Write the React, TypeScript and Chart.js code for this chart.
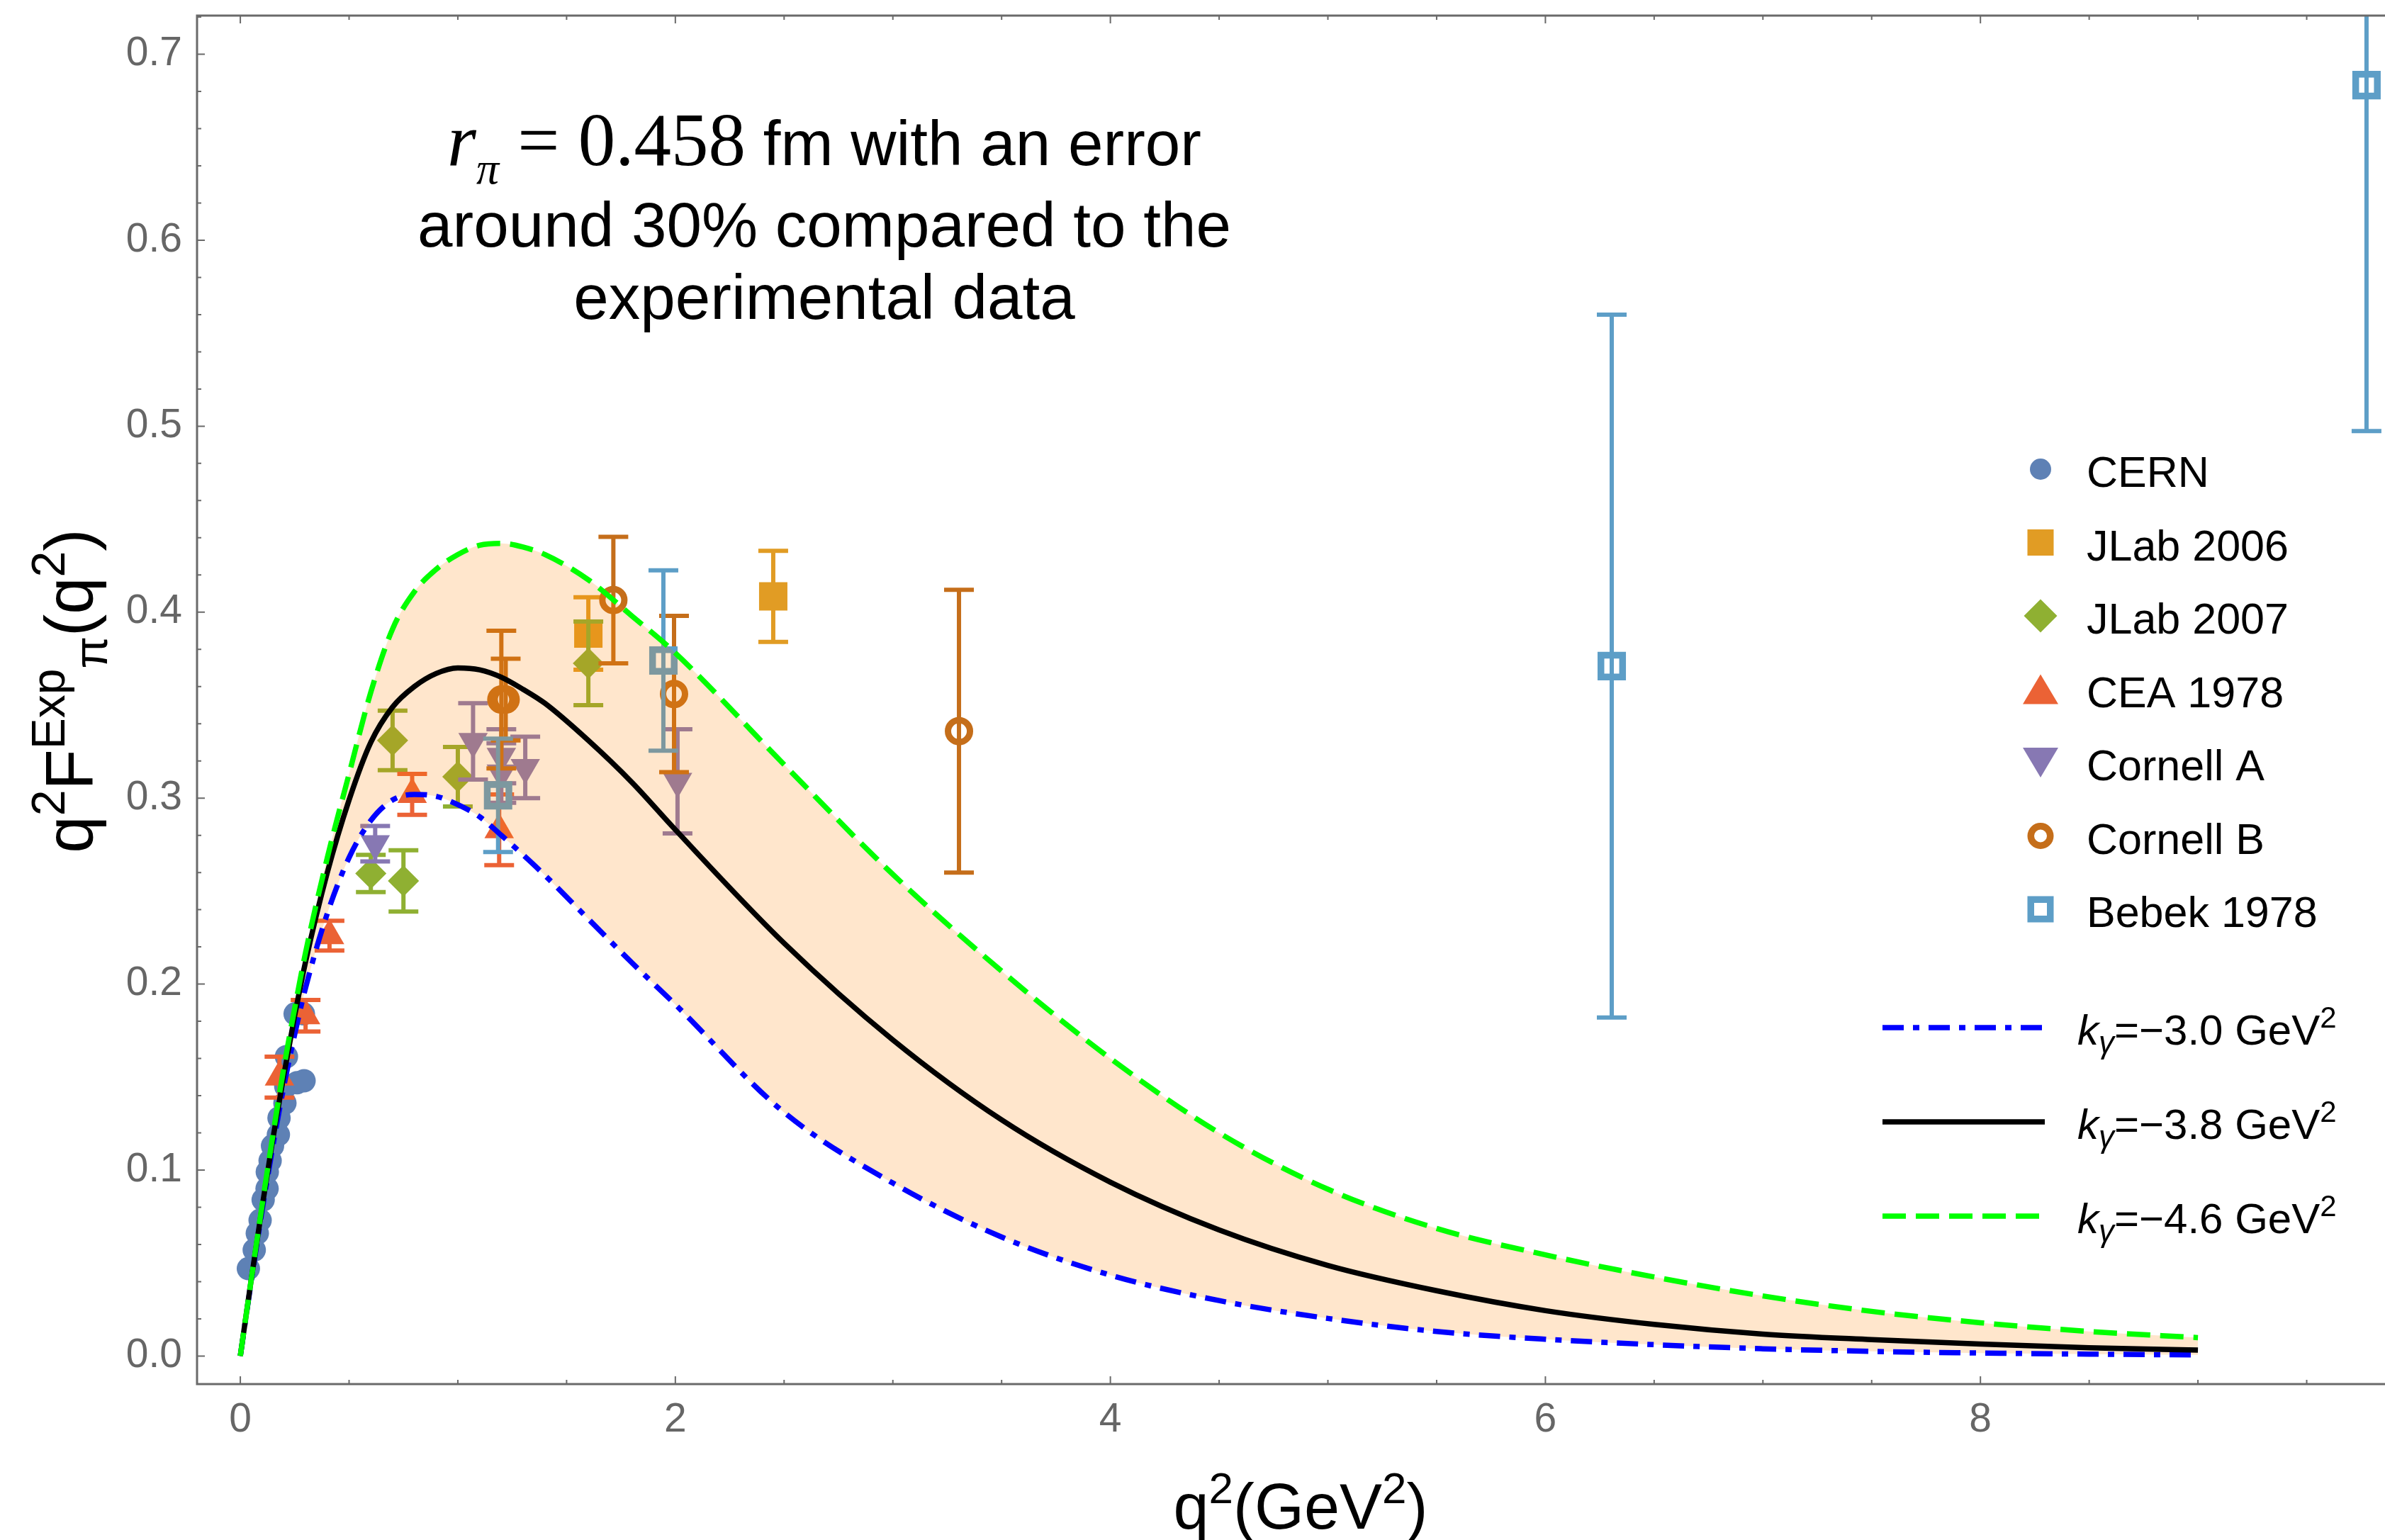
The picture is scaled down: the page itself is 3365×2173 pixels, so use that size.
import React, { useEffect, useRef } from 'react';
import { Chart, registerables } from 'chart.js';

Chart.register(...registerables);

const W = 3365;
const H = 2173;

// ---------------- data ----------------
// model curves q^2 F(q^2) for three k_gamma values
const curveQ2 = [0, 0.05, 0.1, 0.15, 0.2, 0.25, 0.3, 0.4, 0.5, 0.6, 0.7, 0.8, 0.9, 1.0, 1.1, 1.2, 1.3, 1.4, 1.6, 1.8, 2.0, 2.5, 3.0, 3.5, 4.0, 4.5, 5.0, 5.5, 6.0, 6.5, 7.0, 7.5, 8.0, 8.5, 9.0];
const curveK30 = [0, 0.040, 0.078, 0.113, 0.145, 0.173, 0.198, 0.238, 0.268, 0.288, 0.299, 0.302, 0.301, 0.2965, 0.290, 0.280, 0.2695, 0.2585, 0.235, 0.2115, 0.189, 0.131, 0.093, 0.064, 0.0435, 0.0298, 0.0202, 0.0132, 0.0090, 0.0061, 0.0039, 0.0025, 0.0016, 0.0010, 0.0006];
const curveK38 = [0, 0.041, 0.080, 0.117, 0.151, 0.183, 0.212, 0.260, 0.299, 0.330, 0.349, 0.360, 0.367, 0.370, 0.369, 0.365, 0.3585, 0.351, 0.331, 0.3085, 0.283, 0.222, 0.170, 0.127, 0.0935, 0.0678, 0.0487, 0.0351, 0.0244, 0.0170, 0.0118, 0.0088, 0.0064, 0.0044, 0.0032];
const curveK46 = [0, 0.041, 0.081, 0.119, 0.155, 0.187, 0.217, 0.268, 0.313, 0.357, 0.391, 0.411, 0.423, 0.431, 0.436, 0.437, 0.435, 0.431, 0.4174, 0.398, 0.378, 0.318, 0.259, 0.207, 0.160, 0.120, 0.0897, 0.0686, 0.0544, 0.0425, 0.0323, 0.0240, 0.0179, 0.0132, 0.0099];

// experimental data
const cernQ2 = [0.037, 0.064, 0.078, 0.091, 0.105, 0.123, 0.124, 0.137, 0.148, 0.175, 0.178, 0.205, 0.209, 0.212, 0.252, 0.261, 0.290, 0.293];
const cernVal = [0.047, 0.057, 0.066, 0.073, 0.084, 0.090, 0.099, 0.105, 0.113, 0.119, 0.128, 0.136, 0.145, 0.161, 0.184, 0.147, 0.184, 0.148];

const jlab06Q2 = [1.60, 2.45];
const jlab06Val = [0.3885, 0.4085];
const jlab06Err = [0.0195, 0.0245];

const jlab07Q2 = [0.60, 0.70, 0.75, 1.00, 1.60];
const jlab07Val = [0.2595, 0.331, 0.2555, 0.3115, 0.3725];
const jlab07Err = [0.010, 0.016, 0.0165, 0.016, 0.0225];

const ceaQ2 = [0.18, 0.30, 0.41, 0.79, 1.19];
const ceaVal = [0.150, 0.183, 0.226, 0.302, 0.283];
const ceaErr = [0.011, 0.0085, 0.008, 0.011, 0.019];

const cornellAQ2 = [0.62, 1.07, 1.20, 1.20, 1.31, 2.01];
const cornellAVal = [0.2755, 0.3305, 0.3225, 0.3135, 0.3165, 0.309];
const cornellAErr = [0.0095, 0.0205, 0.0145, 0.016, 0.0165, 0.028];

const cornellBQ2 = [1.20, 1.22, 1.715, 1.994, 3.304];
const cornellBVal = [0.353, 0.353, 0.4065, 0.356, 0.336];
const cornellBErr = [0.037, 0.022, 0.034, 0.042, 0.076];

const bebekQ2 = [1.185, 1.945, 6.305, 9.775];
const bebekVal = [0.3015, 0.374, 0.371, 0.6834];
const bebekErr = [0.0305, 0.0485, 0.189, 0.186];

const xTickValues = [0, 2, 4, 6, 8];
const yTickValues = [0, 0.1, 0.2, 0.3, 0.4, 0.5, 0.6, 0.7];

const seriesLabels = ['CERN', 'JLab 2006', 'JLab 2007', 'CEA 1978', 'Cornell A', 'Cornell B', 'Bebek 1978'];
const curveLabels = ['\u22123.0', '\u22123.8', '\u22124.6'];

// ---------------- styles ----------------
const C_CERN = '#5E81B5';
const C_JL06 = '#E19C24';
const C_JL07 = '#8FB032';
const C_CEA = '#EB6235';
const C_CORA = '#8778B3';
const C_CORB = '#C56E1A';
const C_BEB = '#5D9EC7';
const FRAME = '#6a6a6a';
const SANS = '"Liberation Sans", Arial, Helvetica, sans-serif';
const SERIF = '"Liberation Serif", "Times New Roman", serif';

const XMIN = -0.199;
const XMAX = 9.860;
const YMIN = -0.0151;
const YMAX = 0.7208;

const BLUE_DASH = [30, 13, 9, 13];
const GREEN_DASH = [33, 14];

const pts = (xs: number[], ys: number[]) => xs.map((x, i) => ({ x, y: ys[i] }));

type Run = { t: string; px: number; fam?: string; it?: boolean; dy?: number };
const fontOf = (r: Run) => `${r.it ? 'italic ' : ''}${r.px}px ${r.fam || SANS}`;
function runsWidth(ctx: CanvasRenderingContext2D, runs: Run[]) {
  let w = 0;
  for (const r of runs) {
    ctx.font = fontOf(r);
    w += ctx.measureText(r.t).width;
  }
  return w;
}
function drawRuns(ctx: CanvasRenderingContext2D, runs: Run[], x: number, y: number, align: 'left' | 'center' = 'left') {
  let cx = align === 'center' ? x - runsWidth(ctx, runs) / 2 : x;
  ctx.textAlign = 'left';
  ctx.textBaseline = 'alphabetic';
  for (const r of runs) {
    ctx.font = fontOf(r);
    ctx.fillText(r.t, cx, y + (r.dy || 0));
    cx += ctx.measureText(r.t).width;
  }
}

function drawMarker(ctx: CanvasRenderingContext2D, shape: string, x: number, y: number, color: string) {
  ctx.save();
  ctx.fillStyle = color;
  ctx.strokeStyle = color;
  ctx.beginPath();
  if (shape === 'circle') {
    ctx.arc(x, y, 15, 0, Math.PI * 2);
    ctx.fill();
  } else if (shape === 'square') {
    ctx.rect(x - 18.5, y - 18.5, 37, 37);
    ctx.fill();
  } else if (shape === 'diamond') {
    ctx.moveTo(x, y - 23.5);
    ctx.lineTo(x + 23.5, y);
    ctx.lineTo(x, y + 23.5);
    ctx.lineTo(x - 23.5, y);
    ctx.closePath();
    ctx.fill();
  } else if (shape === 'triUp') {
    ctx.moveTo(x, y - 21);
    ctx.lineTo(x + 25, y + 21);
    ctx.lineTo(x - 25, y + 21);
    ctx.closePath();
    ctx.fill();
  } else if (shape === 'triDown') {
    ctx.moveTo(x, y + 21);
    ctx.lineTo(x + 25, y - 21);
    ctx.lineTo(x - 25, y - 21);
    ctx.closePath();
    ctx.fill();
  } else if (shape === 'ring') {
    ctx.lineWidth = 9.5;
    ctx.arc(x, y, 13.75, 0, Math.PI * 2);
    ctx.stroke();
  } else if (shape === 'openSquare') {
    ctx.lineWidth = 9.5;
    ctx.rect(x - 13.75, y - 13.75, 27.5, 27.5);
    ctx.stroke();
  }
  ctx.restore();
}

const legendShapes = ['circle', 'square', 'diamond', 'triUp', 'triDown', 'ring', 'openSquare'];
const legendColors = [C_CERN, C_JL06, C_JL07, C_CEA, C_CORA, C_CORB, C_BEB];

const errorBarPlugin = {
  id: 'errorBars',
  beforeDatasetDraw(chart: any, args: any) {
    const ds = chart.data.datasets[args.index];
    if (!ds.errors) return;
    const { ctx, chartArea: a, scales } = chart;
    const xs = scales.x;
    const ys = scales.y;
    ctx.save();
    ctx.beginPath();
    ctx.rect(a.left, a.top, a.right - a.left, a.bottom - a.top);
    ctx.clip();
    ctx.strokeStyle = ds.pointBorderColor || ds.pointBackgroundColor;
    ctx.lineCap = 'butt';
    ds.data.forEach((p: any, i: number) => {
      const e = ds.errors[i];
      const px = xs.getPixelForValue(p.x);
      const y1 = ys.getPixelForValue(p.y + e);
      const y2 = ys.getPixelForValue(p.y - e);
      ctx.lineWidth = 6;
      ctx.beginPath();
      ctx.moveTo(px, y1);
      ctx.lineTo(px, y2);
      ctx.moveTo(px - 21, y1);
      ctx.lineTo(px + 21, y1);
      ctx.moveTo(px - 21, y2);
      ctx.lineTo(px + 21, y2);
      ctx.stroke();
    });
    ctx.restore();
  },
};

const framePlugin = {
  id: 'frameTicks',
  afterDatasetsDraw(chart: any) {
    const { ctx, chartArea: a, scales } = chart;
    const xs = scales.x;
    const ys = scales.y;
    ctx.save();
    ctx.strokeStyle = FRAME;
    ctx.lineWidth = 3;
    ctx.beginPath();
    ctx.moveTo(a.left, a.top);
    ctx.lineTo(a.right, a.top);
    ctx.moveTo(a.left, a.top - 1.5);
    ctx.lineTo(a.left, a.bottom + 1.5);
    ctx.moveTo(a.left, a.bottom);
    ctx.lineTo(a.right, a.bottom);
    ctx.stroke();
    ctx.lineWidth = 2;
    ctx.beginPath();
    for (let i = 0; i <= 19; i++) {
      const v = i * 0.5;
      const len = i % 4 === 0 ? 11 : 6;
      const px = xs.getPixelForValue(v);
      ctx.moveTo(px, a.bottom);
      ctx.lineTo(px, a.bottom - len);
      ctx.moveTo(px, a.top);
      ctx.lineTo(px, a.top + len);
    }
    for (let i = 0; i <= 36; i++) {
      const v = i * 0.02;
      const len = i % 5 === 0 ? 11 : 6;
      const py = ys.getPixelForValue(v);
      ctx.moveTo(a.left, py);
      ctx.lineTo(a.left + len, py);
    }
    ctx.stroke();
    ctx.restore();
  },
};

const textPlugin = {
  id: 'texts',
  afterDraw(chart: any) {
    const ctx: CanvasRenderingContext2D = chart.ctx;
    ctx.save();
    ctx.fillStyle = '#000';

    // annotation
    drawRuns(ctx, [
      { t: 'r', px: 105, fam: SERIF, it: true },
      { t: '\u03c0', px: 64, fam: SERIF, it: true, dy: 26 },
      { t: ' = 0.458', px: 105, fam: SERIF },
      { t: ' fm with an error', px: 89 },
    ], 1163, 233, 'center');
    drawRuns(ctx, [{ t: 'around 30% compared to the', px: 89 }], 1163, 348, 'center');
    drawRuns(ctx, [{ t: 'experimental data', px: 89 }], 1163, 450, 'center');

    // x axis title
    drawRuns(ctx, [
      { t: 'q', px: 90 },
      { t: '2', px: 62, dy: -36 },
      { t: '(GeV', px: 90 },
      { t: '2', px: 62, dy: -36 },
      { t: ')', px: 90 },
    ], 1835, 2157, 'center');

    // y axis title (rotated)
    ctx.save();
    ctx.translate(130, 975);
    ctx.rotate(-Math.PI / 2);
    drawRuns(ctx, [
      { t: 'q', px: 94 },
      { t: '2', px: 66, dy: -39 },
      { t: 'F', px: 94 },
      { t: 'Exp', px: 66, dy: -39 },
      { t: '\u03c0', px: 66, dy: 21 },
      { t: '(q', px: 94 },
      { t: '2', px: 66, dy: -39 },
      { t: ')', px: 94 },
    ], 0, 0, 'center');
    ctx.restore();

    // legend: data series
    seriesLabels.forEach((lab, i) => {
      const base = 687 + i * 103.5;
      drawMarker(ctx, legendShapes[i], 2879, base - 25, legendColors[i]);
      ctx.fillStyle = '#000';
      drawRuns(ctx, [{ t: lab, px: 61 }], 2944, base);
    });

    // legend: curves
    const lineStyles = [
      { color: '#0000ff', dash: BLUE_DASH },
      { color: '#000000', dash: [] as number[] },
      { color: '#00ff00', dash: GREEN_DASH },
    ];
    curveLabels.forEach((lab, i) => {
      const ly = 1450 + i * 133;
      ctx.save();
      ctx.strokeStyle = lineStyles[i].color;
      ctx.lineWidth = 7.5;
      ctx.lineCap = 'butt';
      ctx.setLineDash(lineStyles[i].dash);
      ctx.beginPath();
      ctx.moveTo(2656, ly);
      ctx.lineTo(2885, ly);
      ctx.stroke();
      ctx.restore();
      ctx.fillStyle = '#000';
      drawRuns(ctx, [
        { t: 'k', px: 60, it: true },
        { t: '\u03b3', px: 44, it: true, dy: 12 },
        { t: '=' + lab + ' GeV', px: 60 },
        { t: '2', px: 42, dy: -24 },
      ], 2931, ly + 24);
    });
    ctx.restore();
  },
};

function buildConfig(): any {
  const scatter = (label: string, xs: number[], ys: number[], errs: number[] | null, style: any, order: number) => ({
    type: 'scatter',
    label,
    data: pts(xs, ys),
    errors: errs,
    showLine: false,
    order,
    ...style,
  });
  const fillColor = 'rgba(255,128,0,0.2)';
  return {
    type: 'scatter',
    data: {
      datasets: [
        {
          type: 'line', label: 'k=-3.0', data: pts(curveQ2, curveK30), borderColor: '#0000ff', borderWidth: 7.5,
          borderDash: BLUE_DASH, borderCapStyle: 'butt', pointRadius: 0, cubicInterpolationMode: 'monotone',
          fill: { target: 2 }, backgroundColor: fillColor, order: 2,
        },
        {
          type: 'line', label: 'k=-3.8', data: pts(curveQ2, curveK38), borderColor: '#000000', borderWidth: 7.5,
          pointRadius: 0, cubicInterpolationMode: 'monotone', fill: false, order: 1,
        },
        {
          type: 'line', label: 'k=-4.6', data: pts(curveQ2, curveK46), borderColor: '#00ff00', borderWidth: 7.5,
          borderDash: GREEN_DASH, borderCapStyle: 'butt', pointRadius: 0, cubicInterpolationMode: 'monotone', fill: false, order: 0,
        },
        scatter('CERN', cernQ2, cernVal, null, { pointStyle: 'circle', pointRadius: 16.5, pointBackgroundColor: C_CERN, pointBorderColor: C_CERN, pointBorderWidth: 0 }, 10),
        scatter('JLab 2006', jlab06Q2, jlab06Val, jlab06Err, { pointStyle: 'rect', pointRadius: 28.3, pointBackgroundColor: C_JL06, pointBorderColor: C_JL06, pointBorderWidth: 0 }, 9),
        scatter('JLab 2007', jlab07Q2, jlab07Val, jlab07Err, { pointStyle: 'rectRot', pointRadius: 22, pointBackgroundColor: C_JL07, pointBorderColor: C_JL07, pointBorderWidth: 0 }, 8),
        scatter('CEA 1978', ceaQ2, ceaVal, ceaErr, { pointStyle: 'triangle', pointRadius: 24, pointBackgroundColor: C_CEA, pointBorderColor: C_CEA, pointBorderWidth: 0 }, 7),
        scatter('Cornell A', cornellAQ2, cornellAVal, cornellAErr, { pointStyle: 'triangle', pointRotation: 180, pointRadius: 24, pointBackgroundColor: C_CORA, pointBorderColor: C_CORA, pointBorderWidth: 0 }, 6),
        scatter('Cornell B', cornellBQ2, cornellBVal, cornellBErr, { pointStyle: 'circle', pointRadius: 15.5, pointBackgroundColor: 'rgba(0,0,0,0)', pointBorderColor: C_CORB, pointBorderWidth: 9 }, 5),
        scatter('Bebek 1978', bebekQ2, bebekVal, bebekErr, { pointStyle: 'rect', pointRadius: 21.6, pointBackgroundColor: 'rgba(0,0,0,0)', pointBorderColor: C_BEB, pointBorderWidth: 9.5 }, 4),
      ],
    },
    options: {
      responsive: false,
      maintainAspectRatio: false,
      animation: false,
      devicePixelRatio: 1,
      events: [],
      layout: { autoPadding: false, padding: { left: 0, right: 0, top: 22, bottom: 0 } },
      plugins: {
        legend: { display: false },
        tooltip: { enabled: false },
        filler: { drawTime: 'beforeDatasetDraw' },
      },
      scales: {
        x: {
          type: 'linear',
          min: XMIN,
          max: XMAX,
          grid: { display: false, drawTicks: false },
          border: { display: false },
          ticks: { font: { family: SANS, size: 57 }, color: '#666666', padding: 17, maxRotation: 0 },
          afterBuildTicks: (s: any) => { s.ticks = xTickValues.map((v) => ({ value: v })); },
          afterFit: (s: any) => { s.height = H - 1953; s.paddingLeft = 0; s.paddingRight = 0; },
        },
        y: {
          type: 'linear',
          min: YMIN,
          max: YMAX,
          grid: { display: false, drawTicks: false },
          border: { display: false },
          ticks: { font: { family: SANS, size: 57 }, color: '#666666', padding: 21, callback: (v: any) => Number(v).toFixed(1) },
          afterBuildTicks: (s: any) => { s.ticks = yTickValues.map((v) => ({ value: v })); },
          afterFit: (s: any) => { s.width = 278; s.paddingTop = 0; s.paddingBottom = 0; },
        },
      },
    },
    plugins: [errorBarPlugin, framePlugin, textPlugin],
  };
}

export default function App() {
  const ref = useRef<HTMLCanvasElement>(null);
  useEffect(() => {
    const canvas = ref.current;
    if (!canvas) return;
    const chart = new Chart(canvas, buildConfig());
    return () => chart.destroy();
  }, []);
  return (
    <div style={{ position: 'absolute', left: 0, top: 0, width: W, height: H, background: '#ffffff', overflow: 'hidden' }}>
      <canvas ref={ref} width={W} height={H} style={{ display: 'block', width: W + 'px', height: H + 'px' }} />
    </div>
  );
}
